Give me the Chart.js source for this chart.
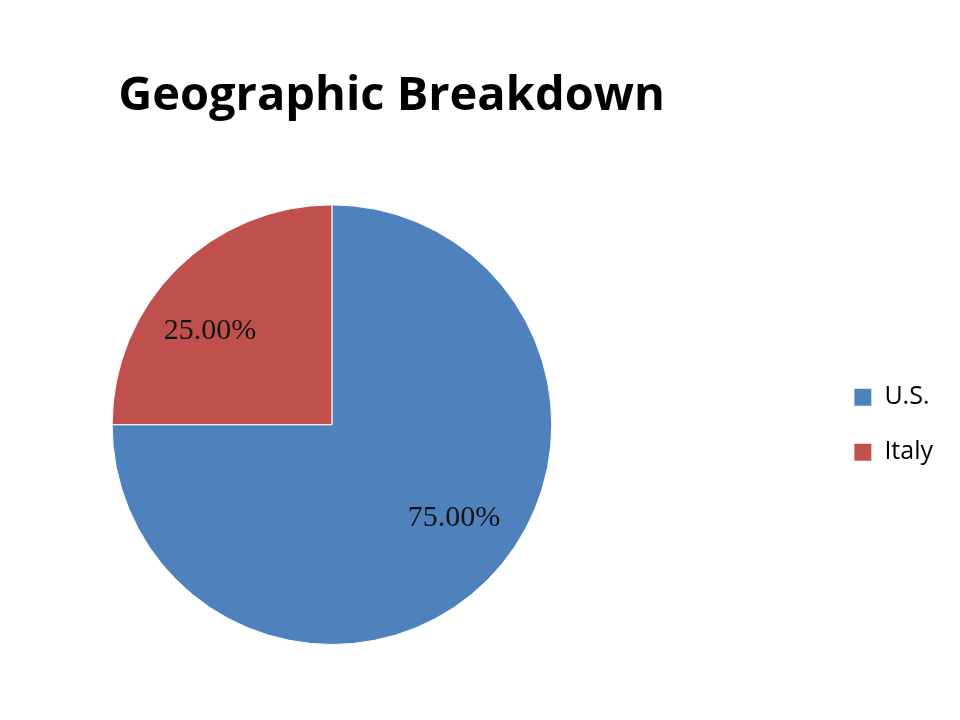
<!DOCTYPE html>
<html>
<head>
<meta charset="utf-8">
<script src="https://cdn.jsdelivr.net/npm/chart.js@4/dist/chart.umd.min.js"></script>
<style>
  html, body { margin: 0; padding: 0; background: #fff; overflow: hidden; }
  /* canvas runs past the left edge so the pie sits left of centre */
  #wrap { width: 1120px; height: 720px; margin-left: -160px; }
</style>
</head>
<body>
<div id="wrap"><canvas id="pie"></canvas></div>
<script>
const labels = ['U.S.', 'Italy']
const shares = [75, 25]
const sliceColors = ['#4F81BD', '#C0504D']
const titleText = 'Geographic Breakdown'

// percent labels inside the slices, placed from the arc geometry
const sliceLabels = {
  id: 'sliceLabels',
  afterDatasetsDraw(chart) {
    const ctx = chart.ctx
    const meta = chart.getDatasetMeta(0)
    const values = chart.data.datasets[0].data
    const total = values.reduce((a, b) => a + b, 0)
    ctx.save()
    ctx.font = '30px "Liberation Serif", serif'
    ctx.fillStyle = '#141414'
    ctx.textAlign = 'center'
    ctx.textBaseline = 'middle'
    meta.data.forEach((arc, i) => {
      const p = arc.getProps(['x', 'y', 'startAngle', 'endAngle', 'outerRadius'], true)
      const mid = (p.startAngle + p.endAngle) / 2 - 0.13
      const r = p.outerRadius * 0.7
      const txt = (values[i] / total * 100).toFixed(2) + '%'
      ctx.fillText(txt, p.x + Math.cos(mid) * r, p.y + Math.sin(mid) * r)
    })
    ctx.restore()
  }
}

const ctx = document.getElementById('pie')

const config = {
  type: 'pie',
  data: {
    labels,
    datasets: [{
      data: shares,
      backgroundColor: sliceColors,
      borderColor: '#fff',
      borderWidth: 1,
      hoverOffset: 0
    }]
  },
  options: {
    responsive: true,
    maintainAspectRatio: false,
    animation: false,
    layout: {
      padding: { left: 0, right: 17, top: 0, bottom: 75 }
    },
    plugins: {
      title: {
        display: true,
        text: titleText,
        color: '#000',
        font: { family: 'Open Sans', size: 47, weight: 'bold', lineHeight: 1.2 },
        padding: { top: 68, bottom: 80 }
      },
      legend: {
        position: 'right',
        fullSize: false,
        align: 'center',
        labels: {
          boxWidth: 18,
          boxHeight: 18,
          padding: 30,
          color: '#000',
          font: { family: 'Open Sans', size: 25 }
        }
      },
      tooltip: { enabled: false }
    }
  },
  plugins: [sliceLabels]
}

const myChart = new Chart(ctx, config)
</script>
</body>
</html>
